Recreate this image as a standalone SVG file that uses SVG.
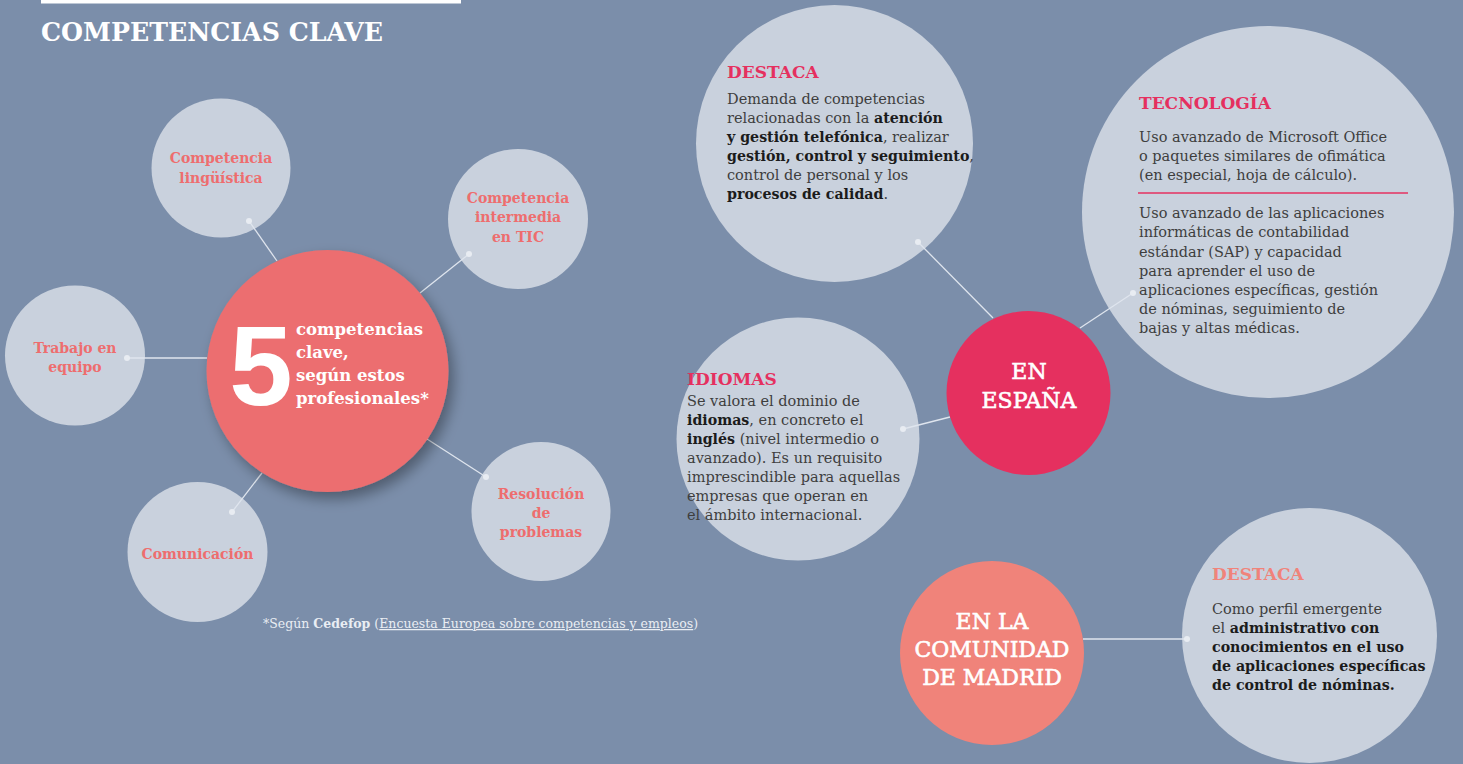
<svg xmlns="http://www.w3.org/2000/svg" width="1463" height="764" viewBox="0 0 1463 764">
<defs>
<filter id="shadow" x="-30%" y="-30%" width="160%" height="160%">
<feGaussianBlur in="SourceAlpha" stdDeviation="7"/>
<feOffset dx="5" dy="7" result="b"/>
<feComponentTransfer><feFuncA type="linear" slope="0.35"/></feComponentTransfer>
<feMerge><feMergeNode/><feMergeNode in="SourceGraphic"/></feMerge>
</filter>
</defs>
<style>
text{font-family:"DejaVu Serif","Liberation Serif",serif;}
.bubble{fill:#c9d1dd;}
.lbl{font-size:14px;font-weight:bold;fill:#ee6d6e;text-anchor:middle;}
.head{font-size:17px;font-weight:bold;fill:#e5305f;}
.body{font-size:14.5px;fill:#3e3e3e;}
.b{font-weight:bold;fill:#1b1b1b;font-size:14.2px;}
.hub{font-size:22px;fill:#ffffff;stroke:#ffffff;stroke-width:0.6;text-anchor:middle;}
.conn line{stroke:#dfe5ee;stroke-width:1.3;}
.conn circle{fill:#e8ecf2;}
</style>
<rect x="0" y="0" width="1463" height="764" fill="#7b8eaa"/>
<rect x="41" y="0" width="420" height="3.5" fill="#ffffff"/>
<text x="41" y="41" font-size="26" font-weight="bold" fill="#ffffff" textLength="342" lengthAdjust="spacingAndGlyphs">COMPETENCIAS CLAVE</text>

<g id="n-linguistica"><circle class="bubble" cx="221" cy="168" r="69.5"/><text class="lbl" x="221" y="163">Competencia</text><text class="lbl" x="221" y="183">lingüística</text></g>
<g id="n-tic"><circle class="bubble" cx="518" cy="219" r="70"/><text class="lbl" x="518" y="203">Competencia</text><text class="lbl" x="518" y="222">intermedia</text><text class="lbl" x="518" y="242">en TIC</text></g>
<g id="n-trabajo"><circle class="bubble" cx="75" cy="355.5" r="70"/><text class="lbl" x="75" y="353">Trabajo en</text><text class="lbl" x="75" y="372">equipo</text></g>
<g id="n-comunicacion"><circle class="bubble" cx="197.5" cy="552" r="70"/><text class="lbl" x="197.5" y="559">Comunicación</text></g>
<g id="n-resolucion"><circle class="bubble" cx="541" cy="511.5" r="69.5"/><text class="lbl" x="541" y="499">Resolución</text><text class="lbl" x="541" y="518">de</text><text class="lbl" x="541" y="537">problemas</text></g>

<g id="n-destaca1"><circle class="bubble" cx="834.5" cy="143.5" r="138.5"/>
<text class="head" x="727" y="78">DESTACA</text>
<text class="body" x="727" y="104">Demanda de competencias</text>
<text class="body" x="727" y="123">relacionadas con la <tspan class="b">atención</tspan></text>
<text class="body" x="727" y="142"><tspan class="b">y gestión telefónica</tspan>, realizar</text>
<text class="body" x="727" y="161"><tspan class="b">gestión, control y seguimiento</tspan>,</text>
<text class="body" x="727" y="180">control de personal y los</text>
<text class="body" x="727" y="199"><tspan class="b">procesos de calidad</tspan>.</text>
</g>
<g id="n-tecnologia"><circle class="bubble" cx="1268" cy="212" r="186"/>
<text class="head" x="1139" y="109">TECNOLOGÍA</text>
<text class="body" x="1139" y="142">Uso avanzado de Microsoft Office</text>
<text class="body" x="1139" y="161">o paquetes similares de ofimática</text>
<text class="body" x="1139" y="180">(en especial, hoja de cálculo).</text>
<line x1="1138" y1="193" x2="1408" y2="193" stroke="#e5305f" stroke-width="1.3"/>
<text class="body" x="1139" y="218">Uso avanzado de las aplicaciones</text>
<text class="body" x="1139" y="237">informáticas de contabilidad</text>
<text class="body" x="1139" y="256.5">estándar (SAP) y capacidad</text>
<text class="body" x="1139" y="276">para aprender el uso de</text>
<text class="body" x="1139" y="295">aplicaciones específicas, gestión</text>
<text class="body" x="1139" y="314">de nóminas, seguimiento de</text>
<text class="body" x="1139" y="333">bajas y altas médicas.</text>
</g>
<g id="n-idiomas"><circle class="bubble" cx="798" cy="439" r="121.5"/>
<text class="head" x="687" y="385">IDIOMAS</text>
<text class="body" x="687" y="406">Se valora el dominio de</text>
<text class="body" x="687" y="425"><tspan class="b">idiomas</tspan>, en concreto el</text>
<text class="body" x="687" y="444"><tspan class="b">inglés</tspan> (nivel intermedio o</text>
<text class="body" x="687" y="463">avanzado). Es un requisito</text>
<text class="body" x="687" y="482">imprescindible para aquellas</text>
<text class="body" x="687" y="501">empresas que operan en</text>
<text class="body" x="687" y="520">el ámbito internacional.</text>
</g>
<g id="n-destaca2"><circle class="bubble" cx="1309.5" cy="635.5" r="127.5"/>
<text class="head" x="1212" y="580" style="fill:#f0837a">DESTACA</text>
<text class="body" x="1212" y="614">Como perfil emergente</text>
<text class="body" x="1212" y="633">el <tspan class="b">administrativo con</tspan></text>
<text class="body b" x="1212" y="652">conocimientos en el uso</text>
<text class="body b" x="1212" y="671">de aplicaciones específicas</text>
<text class="body b" x="1212" y="690">de control de nóminas.</text>
</g>

<g id="connectors" class="conn">
<line x1="249" y1="221" x2="277" y2="261"/><circle cx="249" cy="221" r="3"/>
<line x1="469" y1="254" x2="420" y2="293"/><circle cx="469" cy="254" r="3"/>
<line x1="127" y1="358" x2="207" y2="358"/><circle cx="127" cy="358" r="3"/>
<line x1="232" y1="512" x2="262" y2="473"/><circle cx="232" cy="512" r="3"/>
<line x1="486" y1="477" x2="427" y2="439"/><circle cx="486" cy="477" r="3"/>
<line x1="918" y1="242" x2="993" y2="318"/><circle cx="918" cy="242" r="3"/>
<line x1="1133" y1="293" x2="1080" y2="328"/><circle cx="1133" cy="293" r="3"/>
<line x1="903" y1="429" x2="950" y2="417"/><circle cx="903" cy="429" r="3"/>
<line x1="1083" y1="639" x2="1187" y2="639"/><circle cx="1187" cy="639" r="3"/>
</g>

<g id="n-central"><circle cx="327.5" cy="371" r="121" fill="#ec6e6f" filter="url(#shadow)"/>
<text x="261" y="405" style="font-family:'Liberation Sans',Arial,sans-serif" font-size="114" font-weight="bold" fill="#ffffff" text-anchor="middle">5</text>
<text x="296" y="335" font-size="16.5" font-weight="bold" fill="#ffffff">competencias</text>
<text x="296" y="358" font-size="16.5" font-weight="bold" fill="#ffffff">clave,</text>
<text x="296" y="381" font-size="16.5" font-weight="bold" fill="#ffffff">según estos</text>
<text x="296" y="404" font-size="16.5" font-weight="bold" fill="#ffffff">profesionales*</text>
</g>
<g id="n-espana"><circle cx="1028.5" cy="393" r="82" fill="#e5305f"/>
<text class="hub" x="1029" y="379">EN</text><text class="hub" x="1029" y="408">ESPAÑA</text></g>
<g id="n-madrid"><circle cx="992" cy="653" r="92" fill="#f0837a"/>
<text class="hub" x="992" y="629">EN LA</text><text class="hub" x="992" y="657">COMUNIDAD</text><text class="hub" x="992" y="685">DE MADRID</text></g>

<text x="263" y="628" font-size="12.5" fill="#e9edf3">*Según <tspan font-weight="bold">Cedefop</tspan> (<tspan text-decoration="underline">Encuesta Europea sobre competencias y empleos</tspan>)</text>
</svg>
